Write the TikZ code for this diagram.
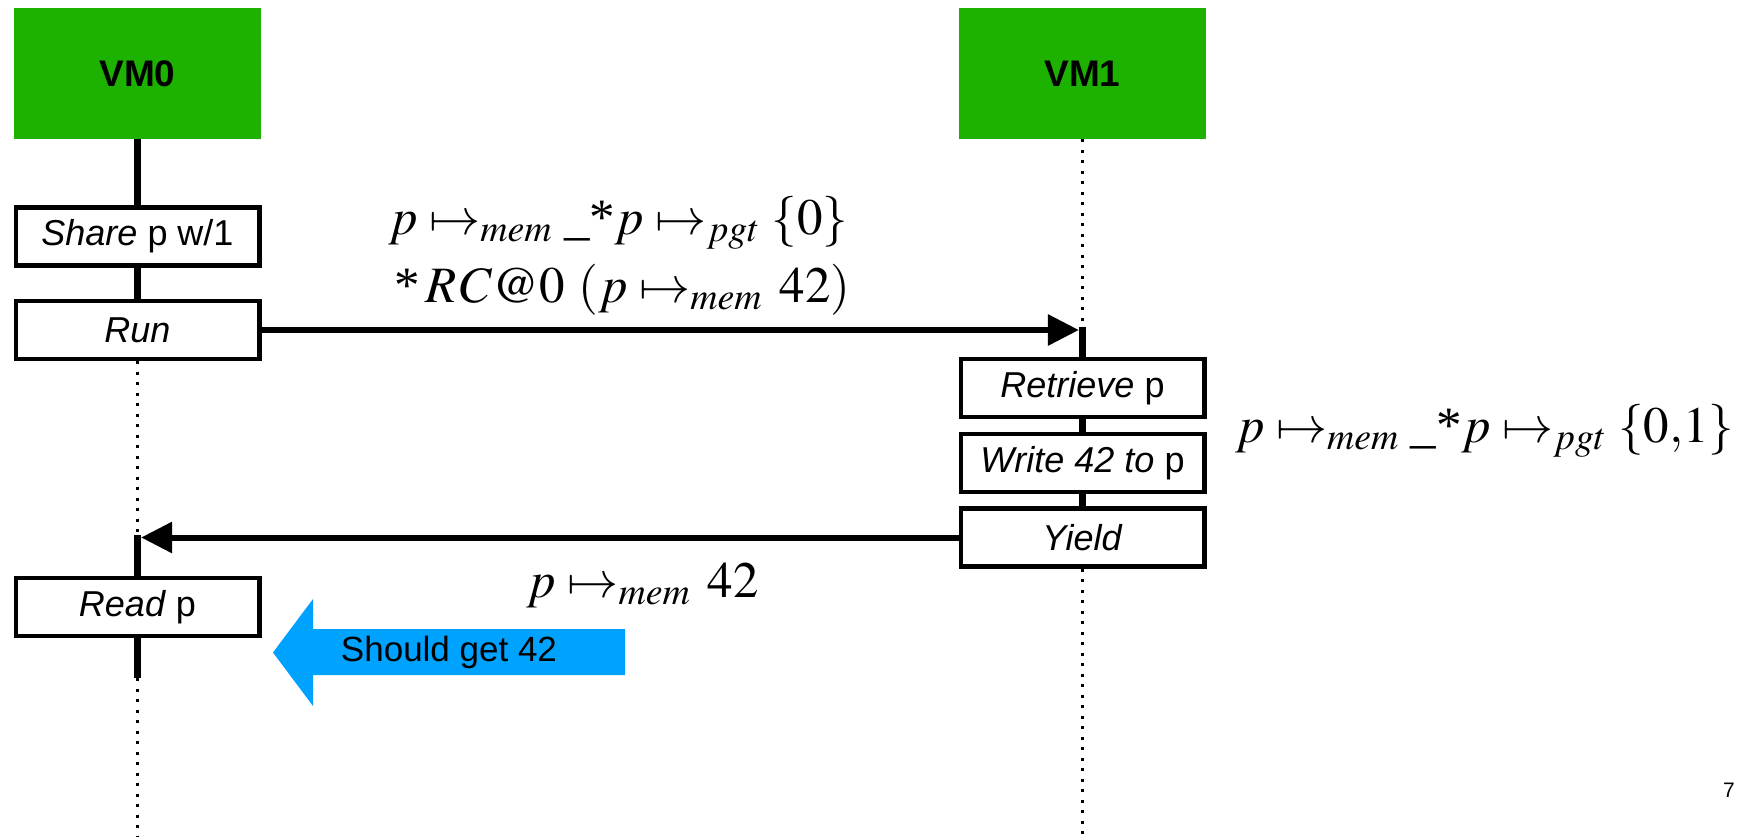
\documentclass[tikz,border=0pt]{standalone}
\usepackage{mathptmx}
\usepackage[no-math]{fontspec}
\setmainfont{Liberation Sans}
\newfontfamily\timesfont{Liberation Serif}
\usetikzlibrary{arrows.meta}
\definecolor{vmgreen}{RGB}{29,177,0}
\definecolor{hintblue}{RGB}{0,162,255}
\newcommand{\sepstar}{\mbox{\timesfont\_*}}
\newcommand{\lonestar}{\mbox{\timesfont*}\,}
\tikzset{
  vmbox/.style={fill=vmgreen,minimum width=123.5pt,minimum height=65.5pt,inner sep=0pt,font=\fontsize{18.5}{20}\selectfont\bfseries},
  actbox/.style={draw,line width=2.2pt,fill=white,minimum width=121.8pt,minimum height=29pt,inner sep=0pt,font=\fontsize{18}{20}\selectfont},
  busy/.style={line width=3.6pt},
  idle/.style={line width=1.5pt,dash pattern=on 1.5pt off 3.75pt},
  msg/.style={line width=3pt,-{Triangle[length=15.5pt,width=15pt]}},
  formula/.style={inner sep=0pt,font=\fontsize{25.5}{28}\selectfont},
}

\begin{document}
\begin{tikzpicture}[x=0.5pt,y=-0.5pt]
  \useasboundingbox (0,0) rectangle (1747,837);
  % the two machines
  \node[vmbox] (vm0) at(137.5,73.5){VM0};
  \node[vmbox] (vm1) at(1082.5,73.5){VM1};
  % what each one does
  \node[actbox] (share) at(137.5,236.5){\textit{Share} p w/1};
  \node[actbox] (run) at(137.5,330){\textit{Run}};
  \node[actbox] (read) at(137.5,607){\textit{Read} p};
  \node[actbox] (retr) at(1082.5,388){\textit{Retrieve} p};
  \node[actbox] (write) at(1082.5,463){\textit{Write 42 to} p};
  \node[actbox] (yield) at(1082.5,537.5){\textit{Yield}};
  \coordinate (in1) at(run.east -| vm1.south);
  \coordinate (in0) at(yield.west -| vm0.south);
  \coordinate (stop0) at(137.5,678);
  \coordinate (end0) at(137.5,837); \coordinate (end1) at(1082.5,837);
  % lifelines
  \draw[busy] (vm0.south) -- (share.north) (share.south) -- (run.north);
  \draw[idle] (run.south) -- (in0);
  \draw[busy] ([yshift=1.5pt]in0) -- (read.north) (read.south) -- (stop0);
  \draw[idle] (stop0) -- (end0);
  \draw[idle] (vm1.south) -- (in1);
  \draw[busy] ([yshift=1.5pt]in1) -- (retr.north) (retr.south) -- (write.north) (write.south) -- (yield.north);
  \draw[idle] (yield.south) -- (end1);
  % messages
  \draw[msg,shorten >=1.8pt] (run.east) -- (in1);
  \draw[msg,shorten >=1.8pt] (yield.west) -- (in0);
  \node[formula,anchor=base] (pre) at(618.5,234){$p\mapsto_{mem}\sepstar p\mapsto_{pgt}\{0\}$};
  \node[formula,anchor=base] (rc) at(622.5,302){$\lonestar\mathit{RC}@0\ (p\mapsto_{mem}\,42)$};
  \node[formula,anchor=base west] (mid) at(1235,442){$p\mapsto_{mem}\sepstar p\mapsto_{pgt}\{0{,}1\}$};
  \node[formula,anchor=base] (post) at(643,597){$p\mapsto_{mem}\,42$};
  % hint
  \fill[hintblue] (273,652.5) -- (313,599) -- (313,629) -- (625,629) -- (625,675) -- (313,675) -- (313,706) -- cycle;
  \node[font=\fontsize{17.5}{20}\selectfont] (hint) at(449,652){Should get 42};
  \node[font=\fontsize{10.5}{12}\selectfont,anchor=base] (page) at(1729,797){7};
\end{tikzpicture}
\end{document}
